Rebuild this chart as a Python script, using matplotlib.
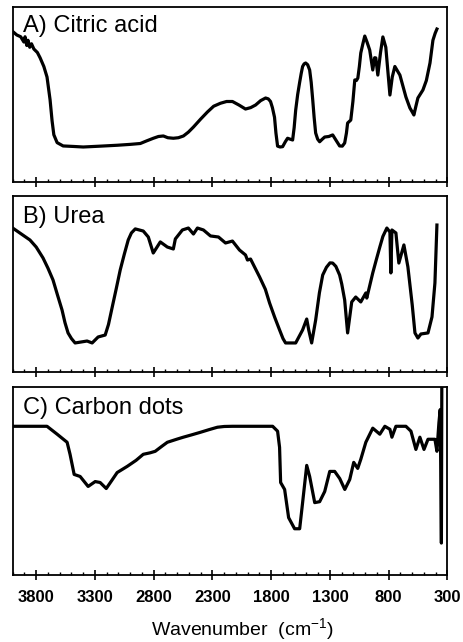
"""
FT-IR spectra: citric acid, urea and the carbon dots made from them.
"""

import matplotlib
matplotlib.use("Agg")
import matplotlib.pyplot as plt
from matplotlib.ticker import MultipleLocator

# --- spectra (wavenumber cm-1, transmittance a.u. 0-100)
citric_wn = [4000, 3965, 3932, 3905, 3895, 3880, 3870, 3855, 3840, 3820,
             3790, 3767, 3735, 3708, 3682, 3665, 3650, 3622, 3571, 3480,
             3400, 3250, 3110, 3000, 2914, 2860, 2803, 2760, 2718, 2680,
             2633, 2590, 2547, 2505, 2462, 2400, 2343, 2290, 2232, 2180,
             2130, 2075, 2019, 1975, 1933, 1890, 1848, 1825, 1806, 1790,
             1772, 1760, 1746, 1725, 1703, 1680, 1661, 1640, 1618, 1605,
             1592, 1575, 1558, 1545, 1533, 1520, 1507, 1490, 1473, 1460,
             1447, 1435, 1422, 1405, 1388, 1365, 1345, 1310, 1277, 1250,
             1218, 1195, 1175, 1160, 1150, 1123, 1105, 1089, 1075, 1063,
             1050, 1038, 1020, 1004, 985, 962, 936, 920, 910, 893,
             870, 850, 825, 790, 770, 748, 705, 654, 620, 600,
             586, 570, 552, 509, 480, 449, 424, 405, 390]
citric_t = [86, 84, 83, 80, 83, 78, 81, 77, 79, 76,
            74, 71, 66, 60, 47, 35, 27, 22.5, 20.6, 20.3,
            20, 20.5, 21, 21.5, 22, 23.5, 25, 26, 26.3, 25.3,
            25, 25.3, 26.3, 28.5, 31.4, 36, 40, 43.3, 45, 46,
            46, 44, 41.7, 42.5, 44, 46.5, 48, 47.5, 46, 42.5,
            37, 28, 20.5, 20, 20.2, 23, 25, 24.5, 24, 31,
            41, 50, 57, 62, 66, 67.5, 68, 67, 64, 57,
            47, 37, 28, 24.5, 23, 24.5, 25.7, 26, 26.9, 24,
            20.6, 20.5, 22.3, 28, 33.7, 35.4, 46, 58.3, 58, 59.4,
            66, 73.7, 79, 83.4, 80, 75.4, 64, 71, 70.9, 61.1,
            74, 82.9, 77, 49.7, 60, 66, 61.1, 48.6, 42.3, 40,
            38.3, 43, 48, 52.6, 58, 68, 81, 85, 87.4]

urea_wn = [4000, 3853, 3800, 3742, 3700, 3657, 3620, 3580, 3555, 3529,
           3500, 3469, 3367, 3324, 3273, 3213, 3185, 3153, 3120, 3085,
           3050, 3017, 2990, 2957, 2889, 2846, 2804, 2744, 2684, 2633,
           2616, 2556, 2505, 2462, 2428, 2377, 2317, 2249, 2189, 2130,
           2070, 2019, 2002, 1976, 1899, 1850, 1814, 1770, 1729, 1700,
           1678, 1592, 1533, 1498, 1481, 1456, 1422, 1390, 1362, 1330,
           1300, 1277, 1250, 1218, 1200, 1175, 1150, 1115, 1081, 1038,
           995, 987, 936, 905, 876, 850, 816, 790, 782, 773,
           739, 714, 671, 637, 600, 577, 552, 526, 466, 432,
           407, 390]
urea_t = [81.8, 75, 71, 64.8, 59, 52.3, 44, 35.2, 28, 22.2,
          19, 16.5, 17.6, 16.5, 19.9, 21, 27, 36.9, 47, 58,
          67, 75, 79, 81.3, 80.1, 76.7, 67.6, 73.9, 71, 69.9,
          75.6, 80.7, 81.8, 78.4, 81.8, 80.7, 77.3, 76.7, 73.3, 74.4,
          69.3, 66.5, 63.6, 64.2, 54, 47, 39.2, 31, 23.9, 19,
          16.5, 16.5, 23.9, 30.1, 23.9, 16.5, 29.5, 45, 55.1, 59.5,
          62, 61.9, 60, 55.1, 50, 40.9, 22.2, 39.8, 42.6, 39.8,
          44.9, 42, 56.3, 64, 71, 77, 81.8, 79.5, 56.3, 80.7,
          79, 61.9, 72.2, 59.7, 38, 22.2, 19.3, 21.6, 22.2, 31.3,
          50.6, 83.5]

cdots_wn = [4000, 3708, 3622, 3537, 3512, 3477, 3426, 3358, 3298, 3256,
            3204, 3160, 3111, 3025, 2950, 2889, 2830, 2787, 2730, 2684,
            2600, 2548, 2480, 2403, 2330, 2258, 2200, 2130, 1959, 1788,
            1746, 1729, 1720, 1686, 1652, 1601, 1558, 1533, 1498, 1473,
            1430, 1388, 1345, 1302, 1260, 1217, 1174, 1132, 1098, 1064,
            1038, 995, 936, 876, 833, 790, 773, 739, 654, 611,
            569, 535, 500, 466, 407, 390, 373, 362, 352, 348]
cdots_t = [79.1, 79.1, 74.9, 70.6, 64.2, 53.5, 52.4, 47.1, 49.7, 49.2,
           46, 50, 54.5, 57.8, 61, 64.2, 65, 65.8, 68.5, 70.6,
           72.3, 73.3, 74.5, 75.9, 77.3, 78.6, 79, 79.1, 79.1, 79.1,
           76.5, 67.9, 49.2, 45.5, 30.5, 24.6, 24.6, 38.5, 58.3, 52.4,
           38.5, 39, 44.4, 55.1, 55.1, 51.3, 45.5, 50.8, 59.9, 56.7,
           61.5, 70.6, 78.1, 74.9, 79.1, 77.5, 73.3, 79.1, 79.1, 76.5,
           66.8, 73.3, 66.8, 72.2, 72.2, 65.8, 81, 88, 17, 110]

panel_labels = ["A) Citric acid", "B) Urea", "C) Carbon dots"]
tick_values = [3800, 3300, 2800, 2300, 1800, 1300, 800, 300]

plt.rcParams["font.family"] = ["Liberation Sans", "DejaVu Sans"]
plt.rcParams["mathtext.fontset"] = "custom"
plt.rcParams["mathtext.rm"] = "Liberation Sans"
plt.rcParams["mathtext.it"] = "Liberation Sans:italic"


def style_axis(ax, show_labels):
    ax.set_xlim(4000, 300)
    ax.set_ylim(0, 100)
    ax.set_yticks([])
    for sp in ax.spines.values():
        sp.set_linewidth(1.3)
    ax.set_xticks(tick_values)
    ax.xaxis.set_minor_locator(MultipleLocator(100))
    ax.tick_params(axis="x", which="major", direction="inout", length=7,
                   width=1.2, pad=7, labelsize=12)
    ax.tick_params(axis="x", which="minor", direction="in", length=2.5,
                   width=1.0)
    if show_labels:
        for lab in ax.get_xticklabels():
            lab.set_fontweight("bold")
    else:
        ax.tick_params(axis="x", labelbottom=False)


def main():
    fig = plt.figure(figsize=(4.64, 6.42), dpi=100)
    left, width = 12.7 / 464, (447.5 - 12.7) / 464
    # (top, bottom) of each box in pixels
    boxes = [(7, 182), (196, 372), (387, 575)]
    label_y = [0.859, 0.847, 0.856]
    spectra = [(citric_wn, citric_t), (urea_wn, urea_t), (cdots_wn, cdots_t)]

    for i, ((top, bot), (wn, t)) in enumerate(zip(boxes, spectra)):
        ax = fig.add_axes([left, 1 - bot / 642, width, (bot - top) / 642])
        ax.plot(wn, t, color="black", linewidth=2.3, solid_joinstyle="round")
        style_axis(ax, show_labels=(i == 2))
        ax.text(0.024, label_y[i], panel_labels[i], transform=ax.transAxes,
                fontsize=17, va="baseline", ha="left")

    fig.text(0.523, 0.011, r"Wavenumber  (cm$^{-1}$)", fontsize=14,
             ha="center", va="baseline")
    fig.savefig("out.png", dpi=100)


if __name__ == "__main__":
    main()
